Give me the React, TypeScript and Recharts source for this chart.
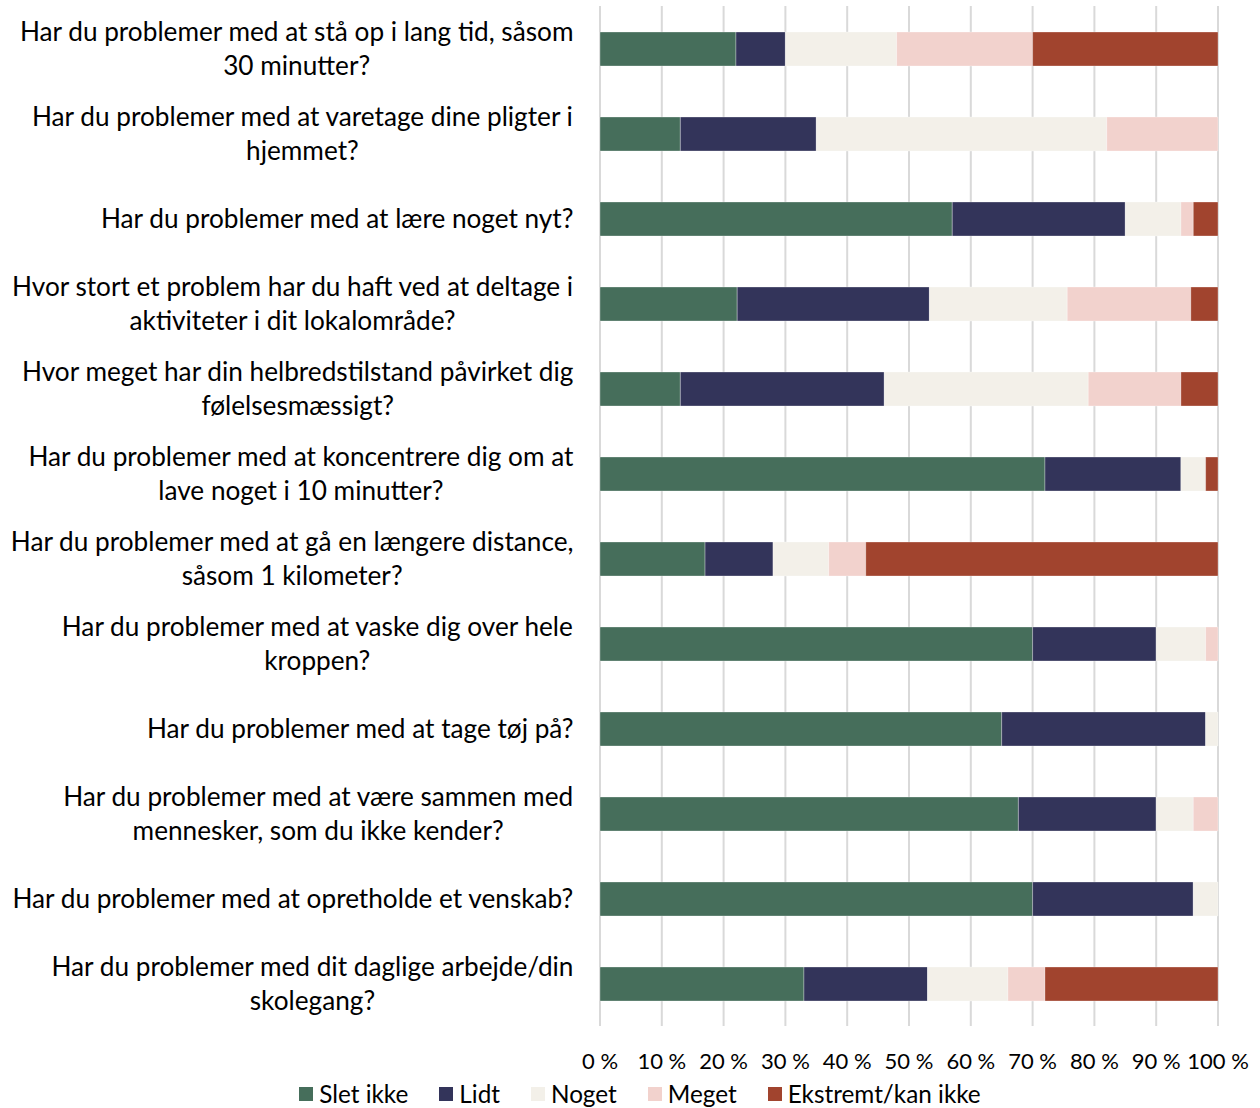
import { BarChart, Bar, XAxis, YAxis, CartesianGrid, Legend } from 'recharts'

const FONT = 'Lato, "Open Sans", sans-serif'
const LABEL_SIZE = 26.2

// question texts, pre-split into display lines
const questions: string[][] = [
  ['Har du problemer med at stå op i lang tid, såsom', '30 minutter?'],
  ['Har du problemer med at varetage dine pligter i', 'hjemmet?'],
  ['Har du problemer med at lære noget nyt?'],
  ['Hvor stort et problem har du haft ved at deltage i', 'aktiviteter i dit lokalområde?'],
  ['Hvor meget har din helbredstilstand påvirket dig', 'følelsesmæssigt?'],
  ['Har du problemer med at koncentrere dig om at', 'lave noget i 10 minutter?'],
  ['Har du problemer med at gå en længere distance,', 'såsom 1 kilometer?'],
  ['Har du problemer med at vaske dig over hele', 'kroppen?'],
  ['Har du problemer med at tage tøj på?'],
  ['Har du problemer med at være sammen med', 'mennesker, som du ikke kender?'],
  ['Har du problemer med at opretholde et venskab?'],
  ['Har du problemer med dit daglige arbejde/din', 'skolegang?'],
]

// shares in percent per answer option
const sletIkke = [22, 13, 57, 22.2, 13, 72, 17, 70, 65, 67.7, 70, 33]
const lidt = [8, 22, 28, 31.1, 33, 22, 11, 20, 33, 22.3, 26, 20]
const noget = [18, 47, 9, 22.3, 33, 4, 9, 8, 2, 6, 4, 13]
const meget = [22, 18, 2, 20, 15, 0, 6, 2, 0, 4, 0, 6]
const ekstremt = [30, 0, 4, 4.4, 6, 2, 57, 0, 0, 0, 0, 28]

const xTicks = [0, 10, 20, 30, 40, 50, 60, 70, 80, 90, 100]

const series = [
  { key: 'sletIkke', name: 'Slet ikke', color: '#466E5B' },
  { key: 'lidt', name: 'Lidt', color: '#33345A' },
  { key: 'noget', name: 'Noget', color: '#F3F0E9' },
  { key: 'meget', name: 'Meget', color: '#F2D2CD' },
  { key: 'ekstremt', name: 'Ekstremt/kan ikke', color: '#A1442E' },
]

const data = questions.map((lines, i) => ({
  q: String(i),
  sletIkke: sletIkke[i],
  lidt: lidt[i],
  noget: noget[i],
  meget: meget[i],
  ekstremt: ekstremt[i],
}))

let ctx: CanvasRenderingContext2D | null = null
function textWidth(s: string) {
  if (!ctx) {
    ctx = document.createElement('canvas').getContext('2d')
    if (ctx) ctx.font = `${LABEL_SIZE}px ${FONT}`
  }
  return ctx ? ctx.measureText(s).width : s.length * 12
}

// multi-line question label, lines centred within a block that ends at the right edge
function QuestionTick({ y, payload }: any) {
  const lines = questions[Number(payload.value)]
  const right = 574
  const block = Math.max(...lines.map(textWidth))
  const cx = right - block / 2
  const lh = 34
  const top = y - ((lines.length - 1) * lh) / 2
  return (
    <text x={cx} y={top} textAnchor="middle" fontFamily={FONT} fontSize={LABEL_SIZE} fill="#000">
      {lines.map((l, i) => (
        <tspan key={i} x={cx} y={top + i * lh} dy="0.35em">{l}</tspan>
      ))}
    </text>
  )
}

function LegendRow() {
  return (
    <div style={{ display: 'flex', justifyContent: 'center', gap: 31, paddingLeft: 20, paddingTop: 3, fontFamily: FONT, fontSize: 24.3, color: '#000', lineHeight: '30px' }}>
      {series.map((s) => (
        <div key={s.key} style={{ display: 'flex', alignItems: 'center' }}>
          <span style={{ width: 14, height: 14, background: s.color, display: 'inline-block', marginRight: 6 }} />
          <span>{s.name}</span>
        </div>
      ))}
    </div>
  )
}

export default function App() {
  return (
    <div style={{ position: 'absolute', left: 0, top: 0, background: '#fff' }}>
      <BarChart
        width={1260}
        height={1108}
        data={data}
        layout="vertical"
        margin={{ top: 6, right: 42, bottom: 0, left: 0 }}
        barSize={34}
      >
        <CartesianGrid horizontal={false} stroke="#D9D9D9" strokeWidth={2} />
        <XAxis
          type="number"
          domain={[0, 100]}
          ticks={xTicks}
          interval={0}
          height={50}
          axisLine={false}
          tickLine={false}
          tickMargin={21}
          tickFormatter={(v: number) => `${v} %`}
          tick={{ fontFamily: FONT, fontSize: 22, fill: '#000' }}
        />
        <YAxis type="category" dataKey="q" width={600} axisLine={false} tickLine={false} tick={<QuestionTick />} interval={0} />
        <Legend
          verticalAlign="bottom"
          height={32}
          wrapperStyle={{ left: 0, width: 1260 }}
          content={() => <LegendRow />}
        />
        {series.map((s) => (
          <Bar key={s.key} dataKey={s.key} name={s.name} stackId="a" fill={s.color} stroke="#ffffff" strokeOpacity={0.5} strokeWidth={0.6} isAnimationActive={false} />
        ))}
      </BarChart>
    </div>
  )
}
